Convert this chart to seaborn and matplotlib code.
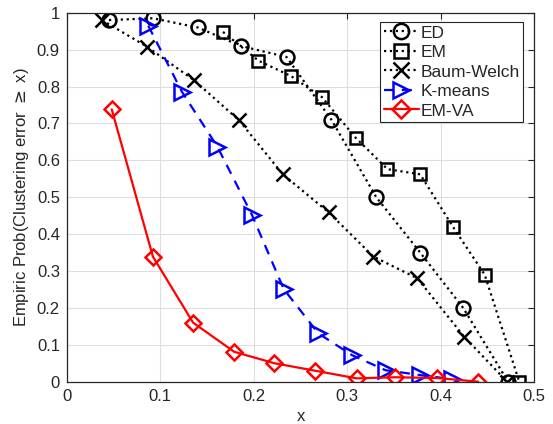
import matplotlib
matplotlib.use("Agg")
import matplotlib.pyplot as plt
import seaborn as sns
import pandas as pd

# ---- data ----
ed_x = [0.045, 0.092, 0.140, 0.186, 0.235, 0.283, 0.331, 0.378, 0.424, 0.472]
ed_y = [0.98, 0.985, 0.96, 0.91, 0.88, 0.71, 0.50, 0.35, 0.20, 0.0]
em_x = [0.167, 0.205, 0.240, 0.273, 0.309, 0.343, 0.378, 0.413, 0.447, 0.484]
em_y = [0.948, 0.870, 0.828, 0.771, 0.661, 0.576, 0.562, 0.420, 0.290, 0.0]
bw_x = [0.0375, 0.0857, 0.1355, 0.184, 0.231, 0.280, 0.328, 0.375, 0.425, 0.471]
bw_y = [0.98, 0.908, 0.818, 0.709, 0.562, 0.459, 0.339, 0.280, 0.122, 0.0]
km_x = [0.087, 0.123, 0.161, 0.198, 0.232, 0.269, 0.305, 0.341, 0.378, 0.412]
km_y = [0.965, 0.786, 0.637, 0.452, 0.251, 0.131, 0.072, 0.031, 0.018, 0.007]
va_x = [0.048, 0.092, 0.135, 0.179, 0.222, 0.265, 0.310, 0.351, 0.396, 0.440]
va_y = [0.738, 0.339, 0.160, 0.081, 0.050, 0.030, 0.009, 0.012, 0.010, 0.0]

series_names = ["ED", "EM", "Baum-Welch", "K-means", "EM-VA"]
x_ticks = [0, 0.1, 0.2, 0.3, 0.4, 0.5]
x_ticklabels = ["0", "0.1", "0.2", "0.3", "0.4", "0.5"]
y_ticks = [0, 0.1, 0.2, 0.3, 0.4, 0.5, 0.6, 0.7, 0.8, 0.9, 1.0]
y_ticklabels = ["0", "0.1", "0.2", "0.3", "0.4", "0.5", "0.6", "0.7", "0.8", "0.9", "1"]

sns.set_style("white")
plt.rcParams["font.family"] = ["Liberation Sans", "DejaVu Sans"]

fig = plt.figure(figsize=(5.53, 4.24), dpi=100)
ax = fig.add_axes([0.121, 0.0998, 0.845, 0.8702])

gray = "#262626"
styles = [
    dict(color="black", linestyle=":", marker="o"),
    dict(color="black", linestyle=":", marker="s"),
    dict(color="black", linestyle=":", marker="x"),
    dict(color="blue", linestyle=(0, (4.5, 3.5)), marker=">"),
    dict(color="red", linestyle="-", marker="D"),
]
msizes = [10, 9, 10, 11, 8]
data = [(ed_x, ed_y), (em_x, em_y), (bw_x, bw_y), (km_x, km_y), (va_x, va_y)]

for name, (xs, ys), st, ms in zip(series_names, data, styles, msizes):
    df = pd.DataFrame({"x": xs, "y": ys})
    sns.lineplot(data=df, x="x", y="y", ax=ax, label=name, sort=False,
                 linewidth=1.6, markersize=ms, markerfacecolor="none",
                 markeredgewidth=1.8, markeredgecolor=st["color"], **st)

ax.set_xlim(0, 0.5)
ax.set_ylim(0, 1)
ax.set_xticks(x_ticks)
ax.set_xticklabels(x_ticklabels)
ax.set_yticks(y_ticks)
ax.set_yticklabels(y_ticklabels)
ax.grid(True, color="#dedede", linewidth=0.8)
ax.set_axisbelow(True)
ax.tick_params(direction="in", length=4, width=0.8, colors=gray, pad=5,
               labelsize=12, top=True, right=True, labeltop=False, labelright=False)
for sp in ax.spines.values():
    sp.set_color(gray)
    sp.set_linewidth(0.9)
ax.set_xlabel("x", fontsize=12, color=gray)
ax.set_ylabel(r"Empiric Prob(Clustering error $\geq$ x)", fontsize=12, color=gray, labelpad=4)

leg = ax.legend(loc="upper right", bbox_to_anchor=(0.976, 0.975), fontsize=12.5,
                handlelength=2.0, handletextpad=0.1, borderpad=0.2, labelspacing=0.25,
                borderaxespad=0.0, fancybox=False, framealpha=1, markerscale=1.1)
leg.get_frame().set_edgecolor(gray)
leg.get_frame().set_linewidth(0.8)

fig.savefig("out.png", dpi=100)
